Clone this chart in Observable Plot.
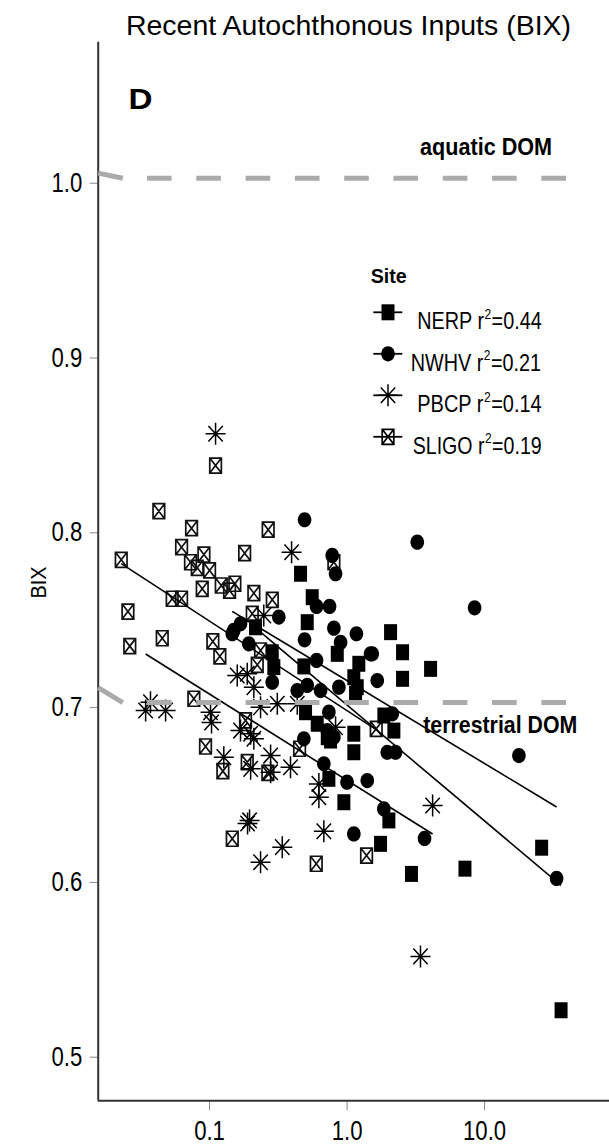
<!DOCTYPE html>
<html><head><meta charset="utf-8">
<script src="https://cdn.jsdelivr.net/npm/d3@7"></script>
<script src="https://cdn.jsdelivr.net/npm/@observablehq/plot@0.6"></script>
<style>
body{margin:0;background:#fff;}
#wrap{position:relative;width:609px;height:1146px;overflow:hidden;font-family:"Liberation Sans",Arial,sans-serif;}
#title{position:relative;height:36px;}
#title span{position:absolute;left:0;width:697px;text-align:center;top:11px;font-size:28.5px;line-height:28px;color:#000;white-space:nowrap;}
#legend{position:absolute;left:0;top:0;}
</style></head>
<body>
<div id="wrap"><div id="title"><span>Recent Autochthonous Inputs (BIX)</span></div></div>
<script>
// ---------------- data ----------------
const sites = ["NERP", "NWHV", "PBCP", "SLIGO"];
const r2 = ["0.44", "0.21", "0.14", "0.19"];

const nerpX = [0.459,0.558,0.5135,2.072,2.533,0.849,0.485,1.218,0.2935,4.05,2.533,0.216,0.2857,1.12,1.186,0.499,0.607,0.718,1.12,1.852,1.12,1.153,0.759,0.948,0.7375,1.752,2.014,2.19,2.94,7.2,26,36];
const nerpY = [0.7737,0.7603,0.746,0.7403,0.7288,0.7279,0.7207,0.7222,0.7203,0.7193,0.7136,0.7431,0.7288,0.7145,0.7088,0.6945,0.6879,0.6802,0.6822,0.6926,0.6716,0.705,0.6783,0.643,0.6564,0.6192,0.6326,0.684,0.602,0.605,0.617,0.524];

const nwhvX = [0.491,3.24,0.780,0.825,0.600,0.746,0.802,0.491,0.897,1.17,1.525,0.600,0.319,0.150,0.168,0.1463,0.193,1.658,8.46,0.872,0.4344,0.5135,0.2857,0.6417,0.7375,2.132,0.485,0.718,0.802,1.961,2.253,17.77,0.678,1.0,1.403,1.852,1.12,1.482,33.4,3.66];
const nwhvY = [0.8046,0.7918,0.7842,0.7737,0.755,0.755,0.7426,0.7359,0.7344,0.7394,0.7279,0.7241,0.7489,0.7413,0.7451,0.7394,0.7336,0.7126,0.7542,0.7088,0.7069,0.7098,0.7117,0.7069,0.6945,0.6936,0.6793,0.684,0.6802,0.6716,0.6716,0.6697,0.665,0.6545,0.6554,0.6392,0.6249,0.7279,0.5994,0.6223];

const pbcpX = [0.1106,0.395,0.248,0.0343,0.0372,0.0479,0.1017,0.1034,0.159,0.188,0.210,0.235,0.311,0.4345,0.168,0.199,0.210,0.127,0.199,0.278,0.278,0.388,0.624,0.624,0.1954,0.189,0.678,0.338,0.235,0.825,3.42,4.19];
const pbcpY = [0.8538,0.786,0.7498,0.6955,0.7002,0.6955,0.6945,0.6886,0.7155,0.7165,0.7088,0.6974,0.6993,0.6993,0.684,0.6822,0.6793,0.6688,0.6621,0.6697,0.6602,0.663,0.6535,0.6459,0.6326,0.6308,0.6264,0.6173,0.6087,0.6859,0.5548,0.6411];

const sligoX = [0.0228,0.0428,0.0740,0.267,0.0626,0.180,0.0910,0.1106,0.0727,0.0814,0.100,0.1217,0.1528,0.1398,0.0885,0.210,0.286,0.0535,0.0626,0.0255,0.2045,0.0453,0.0263,0.1057,0.1188,0.235,0.2223,0.0769,0.1827,0.0935,0.188,0.125,0.2655,0.4515,1.63,0.1463,0.597,1.386,0.802];
const sligoY = [0.7817,0.8095,0.7998,0.7989,0.7889,0.7855,0.7847,0.8356,0.7803,0.7771,0.7756,0.767,0.768,0.7641,0.7651,0.7626,0.7588,0.7594,0.7594,0.7521,0.7508,0.7368,0.7323,0.735,0.7265,0.7298,0.7216,0.7022,0.6898,0.6749,0.6659,0.6608,0.6598,0.6736,0.685,0.6221,0.6078,0.6125,0.7803];

// fitted regression lines (start / end), in site order
const fitX0 = [0.216, 0.146, 0.0343, 0.0228];
const fitY0 = [0.7427, 0.7522, 0.7278, 0.7795];
const fitX1 = [36, 33.4, 4.19, 1.63];
const fitY1 = [0.5954, 0.6403, 0.6248, 0.6845];

// reference levels
const refLevels = [1.0, 0.7];
const refLeadY = [1.0029, 0.7086];       // value where each dashed line meets the axis
const refX = [0.0234, 40.1];             // start of horizontal part, end of line
const refLabels = ["aquatic DOM", "terrestrial DOM"];
const refLabelX = [30.97, 47.2];
const refLabelY = [1.013, 0.6825];

const xDomain = [0.0155, 81];
const yDomain = [0.4722, 1.0778];
const xTicks = [0.1, 1, 10];
const yTicks = [0.5, 0.6, 0.7, 0.8, 0.9, 1.0];

// ---------------- symbols ----------------
const symSquare = {draw(c){ c.rect(-6.5, -8, 13, 16); }};
const symCircle = {draw(c){ const rx = 6.8, ry = 7.6, k = 0.5523;
  c.moveTo(rx, 0); c.bezierCurveTo(rx, ry*k, rx*k, ry, 0, ry); c.bezierCurveTo(-rx*k, ry, -rx, ry*k, -rx, 0);
  c.bezierCurveTo(-rx, -ry*k, -rx*k, -ry, 0, -ry); c.bezierCurveTo(rx*k, -ry, rx, -ry*k, rx, 0); c.closePath(); }};
const symAster = {draw(c){ c.moveTo(0, -11); c.lineTo(0, 11); c.moveTo(-10, 0); c.lineTo(10, 0);
  c.moveTo(-7.2, -7.8); c.lineTo(7.2, 7.8); c.moveTo(-7.2, 7.8); c.lineTo(7.2, -7.8); }};
const symBoxX = {draw(c){ c.rect(-5.8, -7.5, 11.6, 15); c.moveTo(-5.8, -7.5); c.lineTo(5.8, 7.5); c.moveTo(-5.8, 7.5); c.lineTo(5.8, -7.5); }};
const siteSym = [symSquare, symCircle, symAster, symBoxX];
const siteFilled = [true, true, false, false];

// ---------------- tables ----------------
const seriesX = [nerpX, nwhvX, pbcpX, sligoX];
const seriesY = [nerpY, nwhvY, pbcpY, sligoY];
const pts = sites.map((s, i) => seriesX[i].map((x, j) => ({site: s, x, y: seriesY[i][j]})));
const fits = sites.map((s, i) => ({site: s, x1: fitX0[i], y1: fitY0[i], x2: fitX1[i], y2: fitY1[i]}));
const refs = refLevels.map((v, i) => ({level: v, lead: refLeadY[i], label: refLabels[i], lx: refLabelX[i], ly: refLabelY[i]}));

const GRAY = "#ababab";
const chart = Plot.plot({
  width: 609, height: 1110,
  marginTop: 5.7, marginBottom: 45.7, marginLeft: 97.7, marginRight: 0,
  style: {fontFamily: "'Liberation Sans', Arial, sans-serif", fontSize: "27px", color: "#000", background: "#fff", overflow: "visible"},
  x: {type: "log", domain: xDomain},
  y: {domain: yDomain},
  marks: [
    Plot.axisY(yTicks, {tickSize: 8, tickPadding: 8, tickFormat: d => d.toFixed(1), stroke: "#888", fill: "#000", fontSize: 27, dy: 5, label: null}),
    Plot.axisX(xTicks, {tickSize: 10, tickPadding: 10, tickFormat: d => d.toFixed(1), stroke: "#888", fill: "#000", fontSize: 27, label: null}),
    Plot.ruleX([xDomain[0]], {stroke: "#333", strokeWidth: 2}),
    Plot.ruleY([yDomain[0]], {stroke: "#333", strokeWidth: 2}),
    Plot.dot(pts[3], {x: "x", y: "y", symbol: symBoxX, fill: "#fff", fillOpacity: 0, stroke: "#111", strokeWidth: 1.7}),
    Plot.dot(pts[2], {x: "x", y: "y", symbol: symAster, fill: "none", stroke: "#000", strokeWidth: 1.5}),
    Plot.dot(pts[1], {x: "x", y: "y", symbol: symCircle, fill: "#000", stroke: "none"}),
    Plot.dot(pts[0], {x: "x", y: "y", symbol: symSquare, fill: "#000", stroke: "none"}),
    Plot.link(fits, {x1: "x1", y1: "y1", x2: "x2", y2: "y2", stroke: "#000", strokeWidth: 1.6}),
    Plot.link(refs, {x1: xDomain[0], y1: "lead", x2: refX[0], y2: "level", stroke: GRAY, strokeWidth: 5}),
    Plot.ruleY(refs, {y: "level", x1: refX[0], x2: refX[1], stroke: GRAY, strokeWidth: 5, strokeDasharray: "24.6,24.7", strokeDashoffset: 24.6}),
    Plot.text(refs, {x: "lx", y: "ly", text: "label", textAnchor: "end", lineAnchor: "bottom", fontWeight: "bold", fontSize: 23, fill: "#000"}),
    Plot.text(["D"], {frameAnchor: "top-left", dx: 30.3, dy: 66.6, lineAnchor: "bottom", textAnchor: "start", fontWeight: "bold", fontSize: 30}),
    Plot.text(["BIX"], {frameAnchor: "left", rotate: -90, dx: -59.7, dy: 27, fontSize: 22})
  ]
});
document.getElementById("wrap").appendChild(chart);

// condense text to match the narrow face of the original
function fit(el, target) {
  el.setAttribute("textLength", target);
  el.setAttribute("lengthAdjust", "spacingAndGlyphs");
}
chart.querySelectorAll('g[aria-label="y-axis tick label"] text, g[aria-label="x-axis tick label"] text').forEach(t => fit(t, t.getComputedTextLength() * 0.82));
const textWidths = {"aquatic DOM": 132, "terrestrial DOM": 154, "D": 24, "BIX": 32};
chart.querySelectorAll('g[aria-label="text"] text').forEach(t => {
  const w = textWidths[t.textContent];
  if (w) fit(t, w);
});

// ---------------- legend ----------------
const leg = d3.select("#wrap").append("svg").attr("id", "legend").attr("width", 609).attr("height", 1146)
  .style("font-family", "'Liberation Sans', Arial, sans-serif");
const site = leg.append("text").attr("x", 370.7).attr("y", 283.3).attr("font-weight", "bold").attr("font-size", 21).text("Site");
fit(site.node(), 36);
const rows = leg.selectAll("g.row").data(sites).join("g").attr("class", "row")
  .attr("transform", (d, i) => `translate(0,${312.3 + i * 41.5})`);
rows.append("line").attr("x1", 373.3).attr("x2", 402.3).attr("stroke", "#000").attr("stroke-width", 1.8);
rows.append("path").attr("transform", "translate(388,0)")
  .attr("d", (d, i) => { const p = d3.path(); siteSym[i].draw(p); return p.toString(); })
  .attr("fill", (d, i) => siteFilled[i] ? "#000" : "none")
  .attr("stroke", (d, i) => siteFilled[i] ? "none" : "#000")
  .attr("stroke-width", (d, i) => i === 2 ? 1.5 : 1.7);
const labelX = [417.3, 410.7, 417.3, 412.7];
const labelW = [124.4, 130.3, 124.4, 129];
rows.each(function(d, i) {
  const g = d3.select(this).append("g");
  const t1 = g.append("text").attr("x", 0).attr("y", 16.7).attr("font-size", 23).text(d + " r");
  const w1 = t1.node().getComputedTextLength();
  const t2 = g.append("text").attr("x", w1 + 0.5).attr("y", 6.5).attr("font-size", 14).text("2");
  const w2 = t2.node().getComputedTextLength();
  const t3 = g.append("text").attr("x", w1 + w2 + 1).attr("y", 16.7).attr("font-size", 23).text("=" + r2[i]);
  const w3 = t3.node().getComputedTextLength();
  const s = labelW[i] / (w1 + w2 + 1 + w3);
  g.attr("transform", `translate(${labelX[i]},0) scale(${s},1)`);
});
</script>
</body></html>
